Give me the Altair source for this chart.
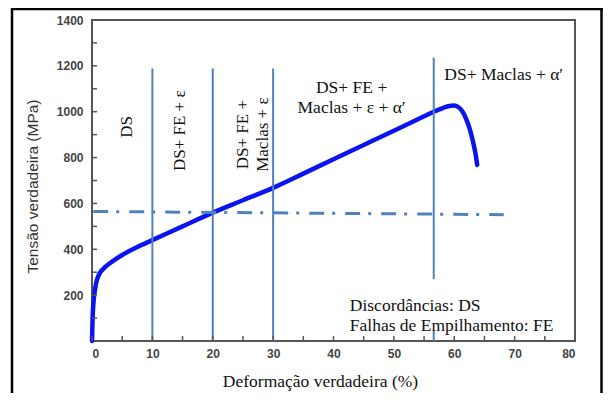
import altair as alt
import pandas as pd

# ---- data ----
strain = [0, 0.1, 0.25, 0.5, 0.8, 1.2, 2, 3, 5, 7.5, 10, 15, 20, 25, 30, 35, 40, 45,
          50, 55, 56.6, 58, 59, 60, 60.8, 61.5, 62.1, 62.6, 63.1, 63.5, 63.8]
stress = [0, 100, 170, 225, 265, 292, 318, 340, 375, 410, 440, 500, 560, 614, 668, 730,
          793, 855, 917, 980, 1000, 1015, 1024, 1027, 1018, 995, 960, 922, 870, 820, 768]

vline_x = [10, 20, 30, 56.6, 56.6]
vline_y0 = [0, 0, 0, 0, 270]
vline_y1 = [1188, 1188, 1188, 44, 1236]

dash_x = [0.2, 68.2]
dash_y = [565, 551]

rot_text = ["DS", "DS+ FE + ε", "DS+ FE +\nMaclas + ε"]
rot_x = [5.8, 14.6, 25.0]
rot_y = [934, 917, 900]

hor_text = ["DS+ FE +\nMaclas + ε + α′", "DS+ Maclas + α′"]
hor_x = [43.0, 68.2]
hor_y = [1105, 1162]

note_text = ["Discordâncias: DS\nFalhas de Empilhamento: FE"]
note_x = [42.7]
note_y = [153]

x_ticks = list(range(0, 81, 5))
y_ticks = list(range(100, 1401, 100))
x_labels = list(range(0, 81, 10))
y_labels = list(range(200, 1401, 200))

W, H = 483, 321
xs = alt.Scale(domain=[0, 80], nice=False)
ys = alt.Scale(domain=[0, 1400], nice=False)

curve_df = pd.DataFrame({"x": strain, "y": stress})
vl_df = pd.DataFrame({"x": vline_x, "y": vline_y0, "y2": vline_y1})
dash_df = pd.DataFrame({"x": dash_x, "y": dash_y})
rot_df = pd.DataFrame({"x": rot_x, "y": rot_y, "t": rot_text})
hor_df = pd.DataFrame({"x": hor_x, "y": hor_y, "t": hor_text})
note_df = pd.DataFrame({"x": note_x, "y": note_y, "t": note_text})
xt_df = pd.DataFrame({"x": x_ticks})
yt_df = pd.DataFrame({"y": y_ticks})

blue_line = "#4F81BD"
serif = "Liberation Serif"

base_x = alt.X("x:Q", scale=xs, axis=alt.Axis(
    values=x_labels, format="d", title="Deformação verdadeira (%)", ticks=False, domain=False,
    grid=False, labelPadding=7, labelFont="Liberation Sans", labelFontWeight="bold",
    labelFontSize=12, labelColor="#444", titleFont=serif, titleFontSize=17.5,
    titleFontWeight="normal", titleColor="#111", titleX=228, titleY=40,
    titleBaseline="middle", titleAlign="center"))
base_y = alt.Y("y:Q", scale=ys, axis=alt.Axis(
    values=y_labels, format="d", title="Tensão verdadeira (MPa)", ticks=False, domain=False,
    grid=False, labelPadding=9, labelFont="Liberation Sans", labelFontWeight="bold",
    labelFontSize=12, labelColor="#444", titleFont="Liberation Sans", titleFontSize=15.5,
    titleFontWeight="normal", titleColor="#333", titleX=-60, titleY=166,
    titleBaseline="middle", titleAlign="center", titleAngle=270))

curve = alt.Chart(curve_df).mark_line(
    color="#0A14F0", strokeWidth=4.5, interpolate="monotone", strokeCap="round"
).encode(x=base_x, y=base_y)

vlines = alt.Chart(vl_df).mark_rule(color=blue_line, strokeWidth=2).encode(
    x=alt.X("x:Q", scale=xs), y=alt.Y("y:Q", scale=ys), y2="y2:Q")

dash = alt.Chart(dash_df).mark_line(
    color=blue_line, strokeWidth=3, strokeDash=[15, 8, 3, 10]
).encode(x=alt.X("x:Q", scale=xs), y=alt.Y("y:Q", scale=ys))

rot = alt.Chart(rot_df).mark_text(
    angle=270, font=serif, fontSize=17, color="#111", lineBreak="\n",
    lineHeight=20, align="center", baseline="middle"
).encode(x=alt.X("x:Q", scale=xs), y=alt.Y("y:Q", scale=ys), text="t:N")

hor = alt.Chart(hor_df).mark_text(
    font=serif, fontSize=17.5, color="#111", lineBreak="\n",
    lineHeight=20, align="center", baseline="middle"
).encode(x=alt.X("x:Q", scale=xs), y=alt.Y("y:Q", scale=ys), text="t:N")

note = alt.Chart(note_df).mark_text(
    font=serif, fontSize=17.5, color="#111", lineBreak="\n",
    lineHeight=20, align="left", baseline="middle"
).encode(x=alt.X("x:Q", scale=xs), y=alt.Y("y:Q", scale=ys), text="t:N")

xticks = alt.Chart(xt_df).mark_rule(color="#555", strokeWidth=1.5).encode(
    x=alt.X("x:Q", scale=xs), y=alt.value(H), y2=alt.value(H - 5))
yticks = alt.Chart(yt_df).mark_rule(color="#555", strokeWidth=1.5).encode(
    y=alt.Y("y:Q", scale=ys), x=alt.value(0), x2=alt.value(5))

# outer picture frame (decoration)
frame_left = alt.Chart(pd.DataFrame({"k": [0]})).mark_rule(color="#000", strokeWidth=2.5).encode(
    x=alt.value(-80), y=alt.value(-12), y2=alt.value(H + 52))
frame_top = alt.Chart(pd.DataFrame({"k": [0]})).mark_rule(color="#000", strokeWidth=2.5).encode(
    x=alt.value(-81), x2=alt.value(W + 28), y=alt.value(-11))
frame_right = alt.Chart(pd.DataFrame({"k": [0]})).mark_rule(color="#000", strokeWidth=2.5).encode(
    x=alt.value(W + 26.5), y=alt.value(-12), y2=alt.value(H + 52))

chart = alt.layer(
    curve, vlines, dash, rot, hor, note, xticks, yticks, frame_left, frame_top, frame_right
).properties(
    width=W, height=H,
    padding={"left": 84, "top": 12, "right": 28, "bottom": 52},
    autosize=alt.AutoSizeParams(type="none"),
    background="white",
).configure_view(stroke="#555", strokeWidth=2)

chart.save("out.html", embed_options={"renderer": "svg", "actions": False})
